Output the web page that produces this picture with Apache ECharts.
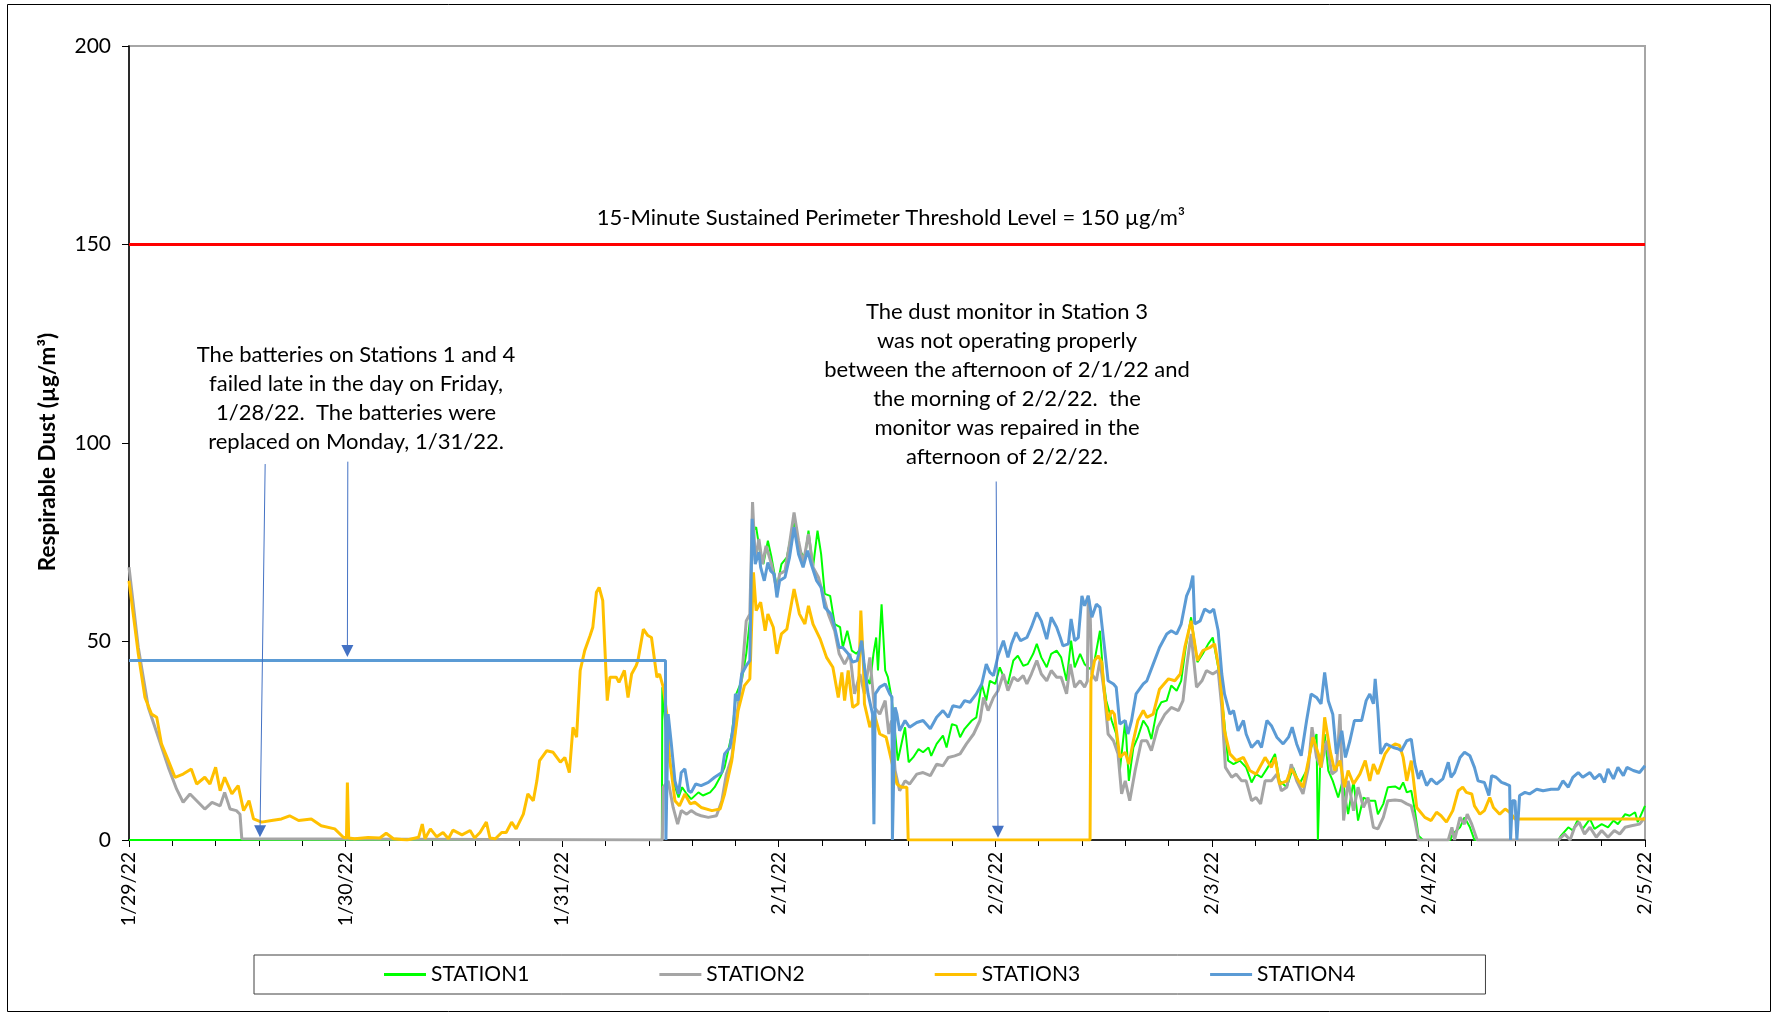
<!DOCTYPE html>
<html>
<head>
<meta charset="utf-8">
<script src="https://cdn.jsdelivr.net/npm/echarts@6.0.0/dist/echarts.min.js"></script>
<style>
  html, body { margin: 0; padding: 0; background: #fff; }
  #chart { width: 1772px; height: 1015px; }
</style>
</head>
<body>
<div id="chart"></div>
<script>
// x = hours since 1/29/22 00:00, y = respirable dust (µg/m³)
const tickLabels = ['1/29/22', '1/30/22', '1/31/22', '2/1/22', '2/2/22', '2/3/22', '2/4/22', '2/5/22'];
const threshold = 150;

const station1 = [
  [0, 0], [59.05, 0], [59.1, 38.5], [59.4, 30], [59.75, 21.7], [60.3, 14.9], [60.9, 10.7], [61.3, 13.3],
  [61.8, 11.6], [62.3, 10.3], [63.1, 12], [63.6, 11.2], [64.4, 12], [64.9, 13.3], [65.5, 15.8], [66.0, 18.3],
  [66.8, 26.7], [67.3, 36.8], [67.9, 40.1], [68.4, 46.9], [68.8, 55.2], [69.06, 77.9], [69.5, 78.8], [69.9, 72.9],
  [70.3, 69.5], [70.8, 75.4], [71.2, 71.2], [71.8, 63.6], [72.3, 69.5], [72.9, 71.2], [73.4, 77.1], [73.7, 80.4],
  [74.3, 72.9], [74.9, 71.2], [75.3, 77.9], [75.8, 68.7], [76.3, 77.9], [76.7, 72], [77.1, 62], [77.7, 61.5],
  [78.2, 54.4], [78.8, 53.6], [79.1, 48.5], [79.6, 52.7], [80.1, 47.7], [80.6, 46.9], [81.2, 48.5], [81.7, 41],
  [82.1, 39.3], [82.5, 46.9], [82.8, 51], [83.0, 42.7], [83.4, 59.4], [83.8, 42.7], [84.1, 41], [84.5, 35.9],
  [84.7, 31.7], [85.2, 20], [85.6, 24.2], [86.0, 28.4], [86.4, 19.6], [86.9, 20.8], [87.5, 22.9], [88.0, 22.1],
  [88.6, 23.3], [88.9, 21.2], [89.5, 24.2], [90.2, 26.3], [90.6, 23.3], [91.2, 29.2], [91.7, 28.8], [92.1, 25.9],
  [92.6, 28], [93.4, 30.1], [93.9, 30.9], [94.5, 39.3], [95.0, 35.1], [95.4, 40.1], [96.0, 39.3], [96.5, 43.5],
  [97.1, 40.1], [97.4, 39.3], [98.0, 45.2], [98.5, 46.4], [99.1, 43.9], [99.6, 44.3], [100.2, 46.9], [100.6, 49.4],
  [101.1, 46], [101.7, 43.5], [102.2, 46.9], [102.8, 47.7], [103.3, 46], [103.9, 40.1], [104.4, 50.2], [104.8, 43.5],
  [105.4, 46.9], [105.9, 44.3], [106.5, 43.1], [107.0, 45.2], [107.6, 52.7], [108.0, 40.1], [108.3, 35.1], [108.9, 30.1],
  [109.4, 26.7], [109.8, 17.5], [110.4, 30.1], [110.8, 14.9], [111.3, 23.3], [111.8, 25.9], [112.4, 30.1], [112.9, 28.4],
  [113.3, 25.4], [113.9, 32.6], [114.4, 34.7], [115.0, 35.1], [115.5, 38.9], [116.1, 37.6], [116.6, 40.1], [117.1, 48.5],
  [117.7, 56.1], [118.4, 44.8], [119.0, 46.9], [119.6, 49.4], [120.1, 51], [120.7, 43.5], [121.3, 31.7], [121.8, 20],
  [122.4, 19.1], [123.1, 20], [123.8, 18.3], [124.4, 14.5], [124.9, 16.6], [125.5, 15.8], [126.2, 18.3], [127.0, 21.7],
  [127.5, 14.9], [128.3, 13.3], [129.0, 18.3], [129.7, 14.1], [130.5, 17.5], [131.0, 23.3], [131.6, 26.7], [131.75, 0],
  [131.85, 0], [132.0, 19.1], [132.5, 26.7], [132.9, 17.5], [133.4, 14.9], [134.0, 10.7], [134.5, 14.9], [135.1, 6.5],
  [135.7, 14.9], [136.2, 4.9], [136.8, 10.7], [137.5, 9.9], [138.1, 9.9], [138.4, 6.5], [139.0, 9.1], [139.5, 13.3],
  [140.3, 13.5], [140.8, 12.8], [141.2, 14.5], [141.6, 12], [142.1, 12.4], [142.5, 7.4], [142.9, 1.1], [143.4, 0],
  [146.4, 0], [146.7, 1.5], [147.5, 3.2], [148.0, 5.7], [148.6, 3.2], [149.1, 0], [158.4, 0], [158.7, 1.1],
  [159.5, 3.2], [160.0, 2.4], [160.5, 4.9], [161.1, 2.8], [161.9, 5.3], [162.4, 2.8], [163.2, 4], [163.9, 3.2],
  [164.5, 4.9], [165.0, 4], [165.8, 6.5], [166.3, 6.1], [166.9, 7], [167.2, 4.5], [168.0, 8.6]
];

const station2 = [
  [0, 68.7], [1.03, 48.5], [2.14, 33.4], [3.25, 25.9], [4.36, 18.3], [5.28, 12.8], [6.0, 9.5], [6.76, 11.6],
  [7.5, 9.9], [8.4, 7.8], [9.2, 9.5], [10.1, 8.6], [10.6, 12], [11.2, 7.8], [11.9, 7.4], [12.3, 6.5],
  [12.5, 0.3], [12.6, 0], [59.1, 0], [59.2, 13.3], [59.75, 14.9], [60.3, 8.2], [60.8, 4], [61.2, 7.4],
  [61.8, 6.5], [62.3, 7.4], [62.9, 6.5], [63.4, 6.1], [64.2, 5.7], [65.1, 6.1], [65.7, 9.9], [66.2, 16.6],
  [66.8, 20.8], [67.3, 30.1], [67.9, 41], [68.4, 55.2], [68.8, 56.9], [69.1, 85.1], [69.4, 70.4], [69.8, 75.8],
  [70.2, 69.5], [70.6, 74.1], [71.2, 69.5], [71.8, 62.8], [72.1, 67], [72.7, 67.8], [73.2, 74.6], [73.7, 82.5],
  [74.2, 75.4], [74.7, 69.5], [75.3, 77.1], [75.8, 68.7], [76.4, 66.2], [76.9, 62], [77.5, 56.9], [78.2, 52.7],
  [78.7, 46.9], [79.3, 44.3], [79.9, 46.9], [80.4, 36.8], [81.0, 41.8], [81.5, 36.8], [82.1, 46], [82.6, 33.4],
  [83.2, 31.7], [83.8, 35.1], [84.2, 26.7], [84.5, 30.1], [84.9, 17.5], [85.4, 12.4], [86.0, 14.9], [86.5, 14.1],
  [87.3, 16.6], [88.0, 17], [88.8, 16.2], [89.5, 19.1], [90.2, 18.7], [90.8, 20.8], [91.5, 21.2], [92.1, 21.7],
  [92.8, 24.2], [93.6, 26.7], [94.3, 30.1], [94.7, 35.9], [95.2, 32.6], [95.8, 35.9], [96.3, 37.6], [96.9, 41.8],
  [97.4, 37.6], [98.0, 41], [98.5, 40.1], [99.1, 41.4], [99.5, 39.3], [100.0, 41.8], [100.6, 45.2], [101.1, 41.8],
  [101.7, 40.1], [102.2, 42.7], [102.8, 41], [103.3, 41], [103.9, 36.8], [104.3, 44.3], [104.8, 38.5], [105.4, 40.1],
  [105.9, 38.5], [106.2, 40], [106.3, 61.5], [106.5, 58], [106.7, 41.8], [107.2, 40.1], [107.6, 45.2], [108.1, 36.8],
  [108.5, 26.7], [109.1, 25], [109.6, 21.7], [110.0, 11.6], [110.4, 14.9], [110.9, 9.9], [111.5, 17.5], [112.2, 25],
  [112.8, 25], [113.3, 22.5], [114.0, 28.4], [114.8, 31.7], [115.5, 33.4], [116.3, 32.6], [116.8, 35.1], [117.2, 43.5],
  [117.7, 51.9], [118.3, 38.5], [118.9, 40.1], [119.4, 42.7], [120.1, 41.8], [120.7, 42.7], [121.1, 33.4], [121.5, 18.3],
  [122.2, 15.8], [122.7, 16.6], [123.3, 14.9], [123.8, 14.9], [124.4, 9.9], [124.9, 10.7], [125.4, 9.1], [125.9, 14.9],
  [126.6, 14.9], [127.2, 16.6], [127.7, 12.4], [128.3, 13.3], [128.8, 19.1], [129.4, 14.9], [130.1, 11.6], [130.7, 18.3],
  [131.1, 28.4], [131.6, 20.8], [132.1, 18.3], [132.7, 25], [133.3, 16.6], [133.8, 17.5], [134.2, 31.7], [134.6, 4.9],
  [135.1, 14.9], [135.7, 7.4], [136.2, 13.3], [136.8, 8.2], [137.3, 10.7], [137.9, 3.2], [138.4, 2.8], [139.0, 5.7],
  [139.5, 9.9], [140.3, 10.1], [141.0, 9.9], [141.6, 9.1], [142.1, 8.6], [142.5, 4.9], [142.9, 0], [146.2, 0],
  [146.6, 3.2], [146.9, 0], [147.5, 5.7], [148.0, 4], [148.3, 6.5], [148.8, 4], [149.4, 0], [158.4, 0],
  [159.1, 1.5], [159.7, 0], [160.2, 3.2], [160.7, 4.5], [161.3, 1.5], [161.9, 3.2], [162.6, 0.7], [163.2, 2.4],
  [163.9, 0.7], [164.6, 2.4], [165.2, 1.5], [165.8, 3.2], [166.5, 3.6], [167.4, 4], [168.0, 5.7]
];

const station3 = [
  [0, 65.3], [1.03, 46.9], [1.77, 35.9], [2.5, 31.7], [3.07, 30.9], [3.6, 24.2], [4.36, 20], [5.1, 15.8],
  [6.0, 16.6], [6.9, 17.9], [7.5, 14.1], [8.4, 15.8], [8.97, 14.1], [9.6, 18.3], [10.1, 12.4], [10.6, 15.8],
  [11.4, 11.6], [12.1, 13.7], [12.7, 7.4], [13.3, 9.9], [13.8, 5.3], [14.7, 4.5], [15.8, 4.9], [16.9, 5.3],
  [17.8, 6.1], [18.8, 4.9], [20.2, 5.3], [21.3, 3.6], [22.8, 2.8], [23.75, 0.7], [24.1, 0.5], [24.2, 14.5],
  [24.35, 0.5], [25.0, 0.3], [26.5, 0.6], [27.8, 0.5], [28.5, 1.7], [29.3, 0.3], [30.8, 0], [32.1, 0.7],
  [32.5, 4], [32.8, 0.3], [33.4, 2.8], [34.1, 0.8], [34.8, 1.9], [35.4, 0.3], [35.9, 2.5], [36.9, 1.3],
  [37.8, 2.4], [38.3, 0.5], [38.9, 1.9], [39.6, 4.5], [40.0, 0.5], [40.6, 0.3], [41.3, 1.9], [41.8, 1.9],
  [42.4, 4.5], [42.9, 2.8], [43.7, 6.5], [44.2, 11.6], [44.8, 9.9], [45.2, 14.9], [45.5, 20], [46.3, 22.5],
  [47.0, 22.1], [47.8, 19.6], [48.3, 20.8], [48.8, 17], [49.2, 28.4], [49.6, 25.9], [50.0, 42.7], [50.5, 47.7],
  [51.1, 51.5], [51.4, 53.6], [51.8, 62.4], [52.1, 63.6], [52.5, 60.3], [52.7, 50.2], [53.0, 35.1], [53.3, 41],
  [54.0, 41], [54.3, 39.7], [54.9, 42.7], [55.3, 35.9], [55.7, 41.8], [56.2, 43.9], [56.4, 45.2], [57.0, 53.1],
  [57.5, 51.5], [57.9, 51], [58.5, 41], [58.8, 41.8], [59.2, 38.5], [59.6, 31.7], [59.9, 20.8], [60.5, 9.9],
  [61.0, 8.6], [61.6, 11.6], [62.2, 9.1], [62.7, 9.5], [63.4, 8.2], [64.6, 7.4], [65.5, 7.8], [66.0, 11.6],
  [66.8, 20], [67.5, 32.6], [68.2, 38.9], [68.8, 40.6], [69.2, 67.4], [69.5, 57.8], [70.0, 59.9], [70.5, 52.7],
  [70.8, 56.9], [71.4, 53.6], [71.8, 46.9], [72.3, 51.9], [72.9, 53.1], [73.7, 63.2], [74.3, 56.9], [74.9, 54.4],
  [75.3, 59], [75.8, 54.4], [76.6, 50.6], [77.3, 46], [78.0, 43.5], [78.6, 35.9], [79.0, 42.2], [79.3, 35.1],
  [79.7, 42.7], [80.2, 33.4], [80.8, 34.3], [81.1, 57.8], [81.4, 43.5], [81.5, 34.3], [82.1, 28.4], [82.6, 31.7],
  [83.2, 26.7], [83.9, 25.9], [84.5, 20], [85.1, 14.1], [85.6, 13.3], [86.2, 13.3], [86.35, 0], [106.5, 0],
  [106.6, 40.1], [107.0, 45.2], [107.4, 46.4], [107.8, 44.8], [108.1, 36.8], [108.5, 30.1], [108.9, 32.6], [109.2, 31.7],
  [109.8, 20.8], [110.4, 22.1], [110.8, 19.1], [111.3, 25], [111.8, 30.1], [112.4, 32.6], [112.8, 30.9], [113.5, 31.7],
  [114.2, 38], [115.2, 40.6], [115.9, 40.1], [116.5, 41.8], [117.0, 48.5], [117.7, 55.2], [118.4, 45.2], [119.0, 47.7],
  [119.8, 48.5], [120.3, 49.4], [120.9, 41.8], [121.4, 27.5], [122.0, 21.7], [122.7, 20], [123.5, 20.8], [124.2, 17.5],
  [124.9, 16.6], [125.9, 20.8], [126.6, 18.3], [127.0, 20.8], [127.5, 14.1], [128.3, 14.9], [128.8, 17.9], [129.6, 14.9],
  [130.1, 13.3], [130.7, 20], [131.2, 25.9], [131.8, 21.7], [132.1, 18.3], [132.5, 30.9], [133.1, 22.5], [133.6, 17.5],
  [134.2, 20], [134.7, 13.3], [135.1, 17.5], [135.7, 14.1], [136.4, 16.6], [137.0, 20], [137.5, 14.9], [137.9, 19.1],
  [138.4, 16.6], [139.2, 21.7], [139.7, 23.3], [140.3, 24.2], [140.8, 23.8], [141.2, 20.8], [141.6, 14.9], [142.1, 20],
  [142.7, 8.2], [143.6, 5.7], [144.3, 4.9], [144.9, 7], [145.4, 6.1], [146.0, 4.5], [146.7, 7.4], [147.3, 12.4],
  [147.8, 13.3], [148.2, 12], [148.8, 11.6], [149.1, 8.6], [149.7, 6.5], [150.2, 7.4], [150.8, 10.7], [151.2, 8.2],
  [151.9, 6.5], [152.5, 7.8], [153.0, 7], [153.6, 5.3], [168, 5.3]
];

const station4 = [
  [0, 45.2], [59.45, 45.2], [59.5, 0], [59.65, 0], [59.75, 31.7], [60.1, 24.2], [60.5, 14.9], [60.9, 11.6],
  [61.2, 17], [61.6, 17.9], [62.0, 12.4], [62.3, 12], [62.8, 14.1], [63.4, 13.7], [64.2, 14.5], [64.9, 15.8],
  [65.7, 17], [66.0, 21.7], [66.6, 23.3], [67.0, 29.2], [67.2, 36.8], [67.5, 35.1], [67.9, 41.8], [68.4, 43.9],
  [68.8, 45.2], [69.06, 80.9], [69.4, 69.5], [69.8, 72.5], [70.0, 68.7], [70.4, 65.3], [70.8, 69.9], [71.1, 67.8],
  [71.5, 67], [71.8, 61.1], [72.1, 65.3], [72.7, 66.2], [73.2, 71.2], [73.7, 78.8], [74.2, 72], [74.7, 68.7],
  [75.2, 72.9], [75.6, 69.5], [76.2, 65.3], [76.7, 63.6], [77.1, 58.6], [77.8, 56.9], [78.2, 53.6], [78.7, 48.5],
  [79.1, 48.5], [79.7, 46.9], [80.2, 44.8], [80.7, 45.2], [81.2, 50.2], [81.5, 43.5], [81.9, 36.8], [82.4, 31.7],
  [82.55, 4], [82.7, 36.8], [83.2, 38.5], [83.8, 39.3], [84.3, 36.8], [84.55, 36], [84.6, 0], [84.8, 0],
  [84.9, 33.4], [85.1, 31.7], [85.4, 27.5], [86.0, 30.1], [86.5, 28.4], [87.3, 29.6], [88.0, 30.1], [88.8, 28],
  [89.5, 30.9], [90.2, 32.6], [90.8, 30.9], [91.3, 33.8], [92.1, 33.4], [92.6, 35.1], [93.2, 34.7], [93.9, 36.8],
  [94.5, 39.3], [95.0, 44.3], [95.4, 42.2], [95.8, 41.4], [96.3, 46.4], [96.9, 50.2], [97.4, 46], [97.8, 49.4],
  [98.3, 52.3], [98.8, 50.2], [99.5, 51], [100.0, 53.6], [100.6, 57.3], [101.1, 55.2], [101.7, 50.6], [102.2, 56.1],
  [102.8, 53.6], [103.2, 51], [103.5, 48.9], [104.1, 49.4], [104.4, 55.7], [104.8, 50.2], [105.2, 51], [105.6, 61.5],
  [105.9, 59], [106.3, 61.5], [106.7, 56.1], [107.2, 59.4], [107.6, 58.6], [108.1, 48.5], [108.5, 40.1], [109.1, 39.3],
  [109.4, 38.5], [109.8, 29.2], [110.4, 30.1], [110.7, 26.7], [111.1, 30.1], [111.6, 36.8], [112.4, 39.3], [112.8, 40.1],
  [113.5, 44.3], [114.2, 48.5], [115.0, 51.9], [115.5, 52.7], [116.1, 51.9], [116.6, 54.4], [117.2, 61.5], [117.6, 63.6],
  [117.9, 66.6], [118.1, 54.4], [118.7, 55.2], [119.2, 58.2], [119.8, 57.3], [120.2, 58.2], [120.7, 52.7], [121.1, 41.8],
  [121.4, 36.8], [122.0, 31.7], [122.4, 32.6], [122.9, 27.5], [123.5, 30.1], [123.8, 26.7], [124.4, 23.3], [125.1, 25],
  [125.5, 23.3], [126.1, 30.1], [126.6, 28.8], [127.2, 25.9], [127.9, 24.2], [128.5, 25.9], [128.9, 28.4], [129.4, 24.2],
  [129.9, 21.2], [130.5, 30.1], [131.0, 36.8], [131.6, 35.9], [132.1, 34.3], [132.5, 42.2], [132.9, 35.1], [133.4, 31.7],
  [133.8, 21.7], [134.4, 27.5], [134.8, 20.8], [135.3, 25], [135.8, 30.1], [136.6, 30.1], [137.1, 35.1], [137.5, 36.8],
  [137.9, 34.3], [138.1, 40.6], [138.4, 32.6], [138.7, 21.7], [139.3, 24.2], [140.1, 23.3], [140.6, 23], [141.0, 22.5],
  [141.6, 25], [142.1, 25.4], [142.5, 19.1], [142.9, 15.4], [143.2, 17.5], [143.8, 13.7], [144.3, 15.4], [144.9, 14.1],
  [145.6, 15.4], [146.2, 19.6], [146.5, 15.8], [146.9, 17], [147.5, 20.8], [148.0, 22.1], [148.6, 21.2], [149.1, 18.3],
  [149.5, 14.9], [150.2, 14.5], [150.7, 11.2], [151.0, 16.2], [151.5, 15.8], [152.1, 14.5], [152.6, 14.1], [153.0, 13.7],
  [153.1, 0], [153.3, 9.9], [153.6, 9.9], [153.8, 0], [154.1, 11.2], [154.7, 12], [155.2, 11.6], [156.0, 12.8],
  [156.7, 12.4], [157.6, 12.8], [158.4, 12.8], [158.9, 14.9], [159.5, 13.3], [160.0, 15.8], [160.6, 17], [161.1, 15.8],
  [161.9, 17], [162.4, 15.4], [163.0, 16.6], [163.5, 14.5], [163.9, 17.9], [164.5, 15.4], [165.0, 18.3], [165.6, 16.2],
  [166.0, 18.3], [166.7, 17.5], [167.4, 17], [168.0, 18.7]
];

// annotation arrows, [start, end] in data space (hours, µg/m³)
const arrows = [
  [[15.09, 94.7], [14.52, 2.2]],
  [[24.25, 95.3], [24.2, 47.6]],
  [[96.1, 90.3], [96.3, 2.1]]
];

const thresholdText = '15-Minute Sustained Perimeter Threshold Level = 150 µg/m³';
const batteryNote = 'The batteries on Stations 1 and 4\nfailed late in the day on Friday,\n1/28/22.  The batteries were\nreplaced on Monday, 1/31/22.';
const monitorNote = 'The dust monitor in Station 3\nwas not operating properly\nbetween the afternoon of 2/1/22 and\nthe morning of 2/2/22.  the\nmonitor was repaired in the\nafternoon of 2/2/22.';

const FONT = 'Lato, "Open Sans", sans-serif';

const chart = echarts.init(document.getElementById('chart'), null, { renderer: 'canvas' });

const lineSeries = (name, data, color, width) => ({
  name,
  type: 'line',
  data,
  showSymbol: false,
  symbol: 'none',
  color,
  lineStyle: { color, width },
  emphasis: { disabled: true },
  silent: true,
  animation: false
});

const s4 = lineSeries('STATION4', station4, '#5b9bd5', 3);
s4.markLine = {
  silent: true,
  animation: false,
  label: { show: false },
  emphasis: { disabled: true },
  data: [
    [
      { coord: [0, threshold], symbol: 'none', lineStyle: { color: '#ff0000', width: 3, type: 'solid' } },
      { coord: [168, threshold], symbol: 'none' }
    ],
    ...arrows.map(([a, b]) => [
      { coord: a, symbol: 'none', lineStyle: { color: '#4472c4', width: 1, type: 'solid' } },
      { coord: b, symbol: 'triangle', symbolSize: [12, 12] }
    ])
  ]
};

const option = {
  backgroundColor: '#fff',
  animation: false,
  textStyle: { fontFamily: FONT },
  grid: {
    left: 129, right: 127, top: 46, bottom: 175,
    show: true, borderColor: '#a6a6a6', borderWidth: 2, backgroundColor: 'transparent'
  },
  legend: {
    data: ['STATION1', 'STATION2', 'STATION3', 'STATION4'],
    left: 254, top: 955,
    padding: [9, 130],
    itemGap: 130,
    itemWidth: 42,
    itemHeight: 3,
    icon: 'rect',
    borderColor: '#404040',
    borderWidth: 1,
    textStyle: { fontFamily: FONT, fontSize: 21, color: '#000' },
    selectedMode: false
  },
  xAxis: {
    type: 'value',
    min: 0, max: 168, interval: 24,
    axisLine: { show: true, onZero: false, lineStyle: { color: '#000', width: 1.5 } },
    axisTick: { show: true, inside: false, length: 7, lineStyle: { color: '#000' } },
    minorTick: { show: true, splitNumber: 5, length: 6, lineStyle: { color: '#000' } },
    splitLine: { show: false },
    minorSplitLine: { show: false },
    axisLabel: {
      rotate: 90, margin: 12, fontFamily: FONT, fontSize: 19.5, color: '#000',
      formatter: (v) => tickLabels[Math.round(v / 24)]
    }
  },
  yAxis: {
    type: 'value',
    min: 0, max: 200, interval: 50,
    name: 'Respirable Dust (µg/m³)',
    nameLocation: 'middle',
    nameGap: 70,
    nameTextStyle: { fontFamily: FONT, fontSize: 22.5, fontWeight: 'bold', color: '#000', padding: [0, 18, 0, 0] },
    axisLine: { show: true, lineStyle: { color: '#000', width: 1.5 } },
    axisTick: { show: true, inside: false, length: 7, lineStyle: { color: '#000' } },
    splitLine: { show: false },
    axisLabel: { margin: 18, fontFamily: FONT, fontSize: 21, color: '#000' }
  },
  series: [
    lineSeries('STATION1', station1, '#00ff00', 2),
    lineSeries('STATION2', station2, '#a5a5a5', 3),
    lineSeries('STATION3', station3, '#ffc000', 3),
    s4
  ],
  graphic: [
    {
      type: 'rect', silent: true, z: -1,
      shape: { x: 7.5, y: 4.5, width: 1763, height: 1007 },
      style: { fill: 'none', stroke: '#000', lineWidth: 1 }
    },
    {
      type: 'text', silent: true, x: 891, y: 218,
      style: { text: thresholdText, align: 'center', verticalAlign: 'middle', font: '22px ' + FONT, fill: '#000' }
    },
    {
      type: 'text', silent: true, x: 356, y: 398,
      style: { text: batteryNote, align: 'center', verticalAlign: 'middle', font: '22px ' + FONT, fill: '#000', lineHeight: 29 }
    },
    {
      type: 'text', silent: true, x: 1007, y: 384,
      style: { text: monitorNote, align: 'center', verticalAlign: 'middle', font: '22px ' + FONT, fill: '#000', lineHeight: 29 }
    }
  ]
};

chart.setOption(option);
</script>
</body>
</html>
